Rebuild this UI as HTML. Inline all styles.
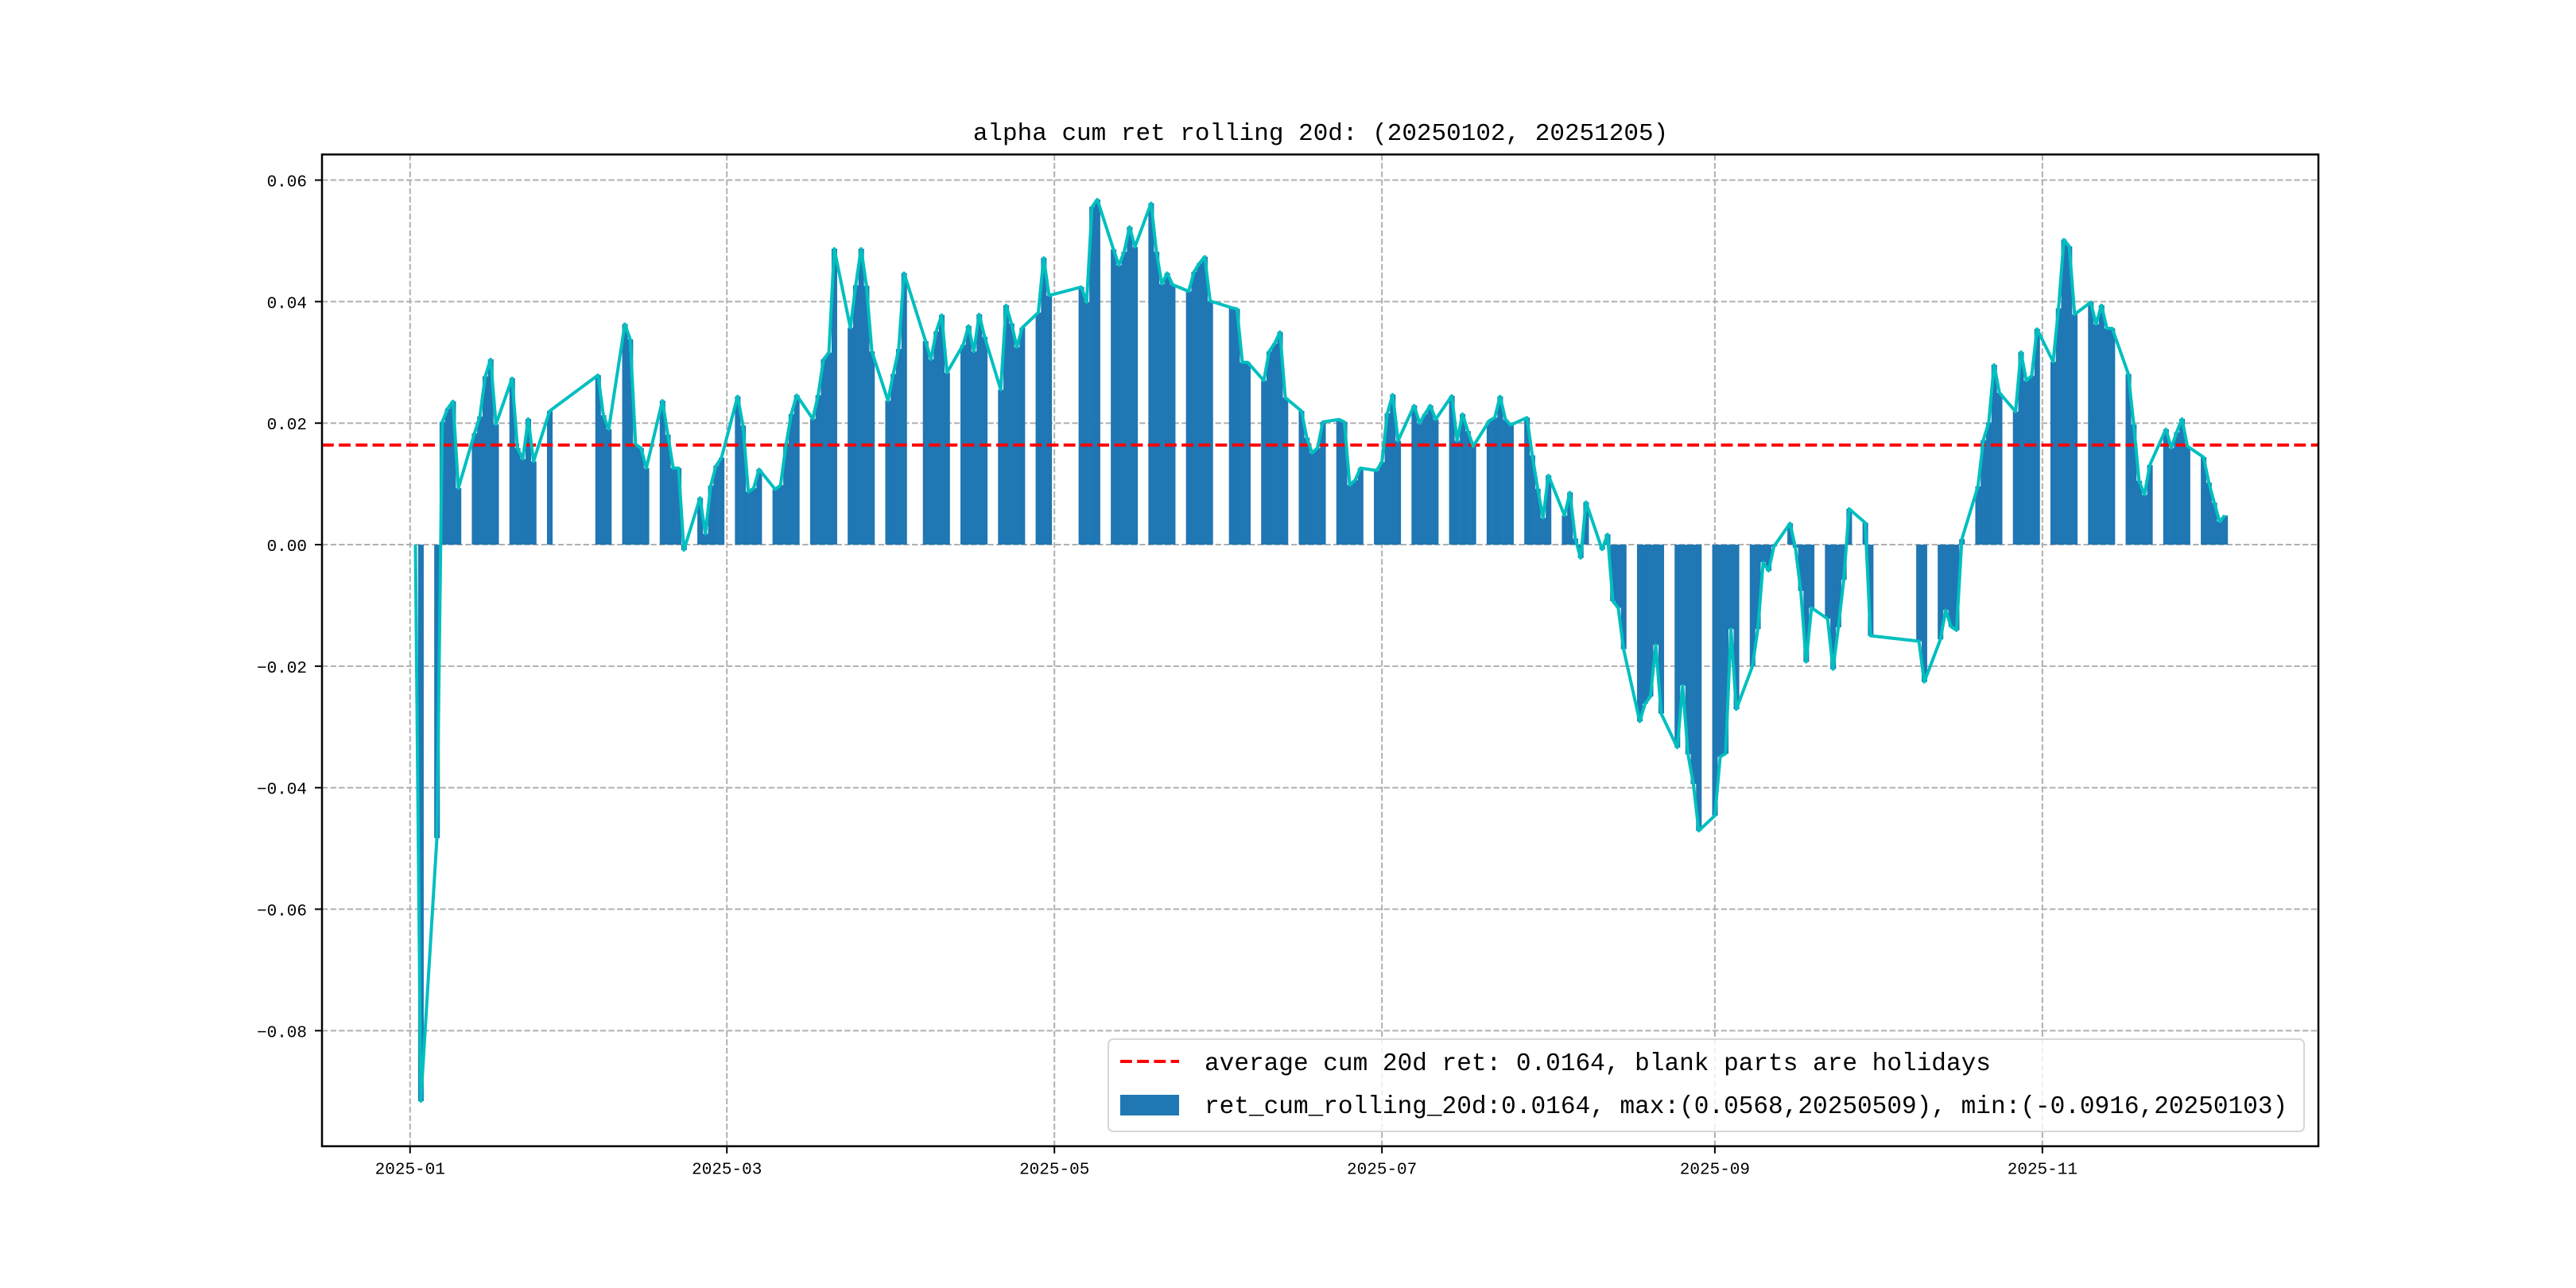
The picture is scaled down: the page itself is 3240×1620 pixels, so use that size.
<!DOCTYPE html>
<html><head><meta charset="utf-8">
<style>
html,body{margin:0;padding:0;background:#fff;}
svg{display:block;}
text{font-family:"Liberation Mono","Noto Sans CJK SC",monospace;fill:#000;}
</style></head>
<body>
<svg id="chart" width="3240" height="1620" viewBox="0 0 3240 1620" xmlns="http://www.w3.org/2000/svg">
<rect width="3240" height="1620" fill="#fff"/>
<g id="grid"></g>
<g id="bars"></g>
<g id="avgline"></g>
<g id="line"></g>
<g id="axes"></g>
<text x="1661" y="176" font-size="31" text-anchor="middle">alpha cum ret rolling 20d: (20250102, 20251205)</text>
<g>
<rect x="1394" y="1307" width="1504" height="116" rx="6" fill="#fff" fill-opacity="0.8" stroke="#d6d6d6" stroke-width="2"/>
<line x1="1409" y1="1335" x2="1483" y2="1335" stroke="#ff0000" stroke-width="4" stroke-dasharray="14.8,6.4"/>
<text x="1515" y="1346" font-size="31.1">average cum 20d ret: 0.0164, blank parts are holidays</text>
<rect x="1409" y="1377" width="74" height="26" fill="#1f77b4"/>
<text x="1515" y="1400" font-size="31.1">ret_cum_rolling_20d:0.0164, max:(0.0568,20250509), min:(-0.0916,20250103)</text>
</g>
</svg>
<script>
const dates = ["01-02","01-03","01-06","01-07","01-08","01-09","01-10","01-13","01-14","01-15","01-16","01-17","01-20","01-21","01-22","01-23","01-24","01-27","02-05","02-06","02-07","02-10","02-11","02-12","02-13","02-14","02-17","02-18","02-19","02-20","02-21","02-24","02-25","02-26","02-27","02-28","03-03","03-04","03-05","03-06","03-07","03-10","03-11","03-12","03-13","03-14","03-17","03-18","03-19","03-20","03-21","03-24","03-25","03-26","03-27","03-28","03-31","04-01","04-02","04-03","04-07","04-08","04-09","04-10","04-11","04-14","04-15","04-16","04-17","04-18","04-21","04-22","04-23","04-24","04-25","04-28","04-29","04-30","05-06","05-07","05-08","05-09","05-12","05-13","05-14","05-15","05-16","05-19","05-20","05-21","05-22","05-23","05-26","05-27","05-28","05-29","05-30","06-03","06-04","06-05","06-06","06-09","06-10","06-11","06-12","06-13","06-16","06-17","06-18","06-19","06-20","06-23","06-24","06-25","06-26","06-27","06-30","07-01","07-02","07-03","07-04","07-07","07-08","07-09","07-10","07-11","07-14","07-15","07-16","07-17","07-18","07-21","07-22","07-23","07-24","07-25","07-28","07-29","07-30","07-31","08-01","08-04","08-05","08-06","08-07","08-08","08-11","08-12","08-13","08-14","08-15","08-18","08-19","08-20","08-21","08-22","08-25","08-26","08-27","08-28","08-29","09-01","09-02","09-03","09-04","09-05","09-08","09-09","09-10","09-11","09-12","09-15","09-16","09-17","09-18","09-19","09-22","09-23","09-24","09-25","09-26","09-29","09-30","10-09","10-10","10-13","10-14","10-15","10-16","10-17","10-20","10-21","10-22","10-23","10-24","10-27","10-28","10-29","10-30","10-31","11-03","11-04","11-05","11-06","11-07","11-10","11-11","11-12","11-13","11-14","11-17","11-18","11-19","11-20","11-21","11-24","11-25","11-26","11-27","11-28","12-01","12-02","12-03","12-04","12-05"];
const values = [0,-0.0916,-0.0483,0.0202,0.0224,0.0236,0.0093,0.0183,0.0211,0.0277,0.0305,0.0198,0.0274,0.0159,0.0141,0.0207,0.0137,0.0220,0.0279,0.0213,0.0190,0.0363,0.0338,0.0165,0.0159,0.0126,0.0237,0.0181,0.0126,0.0126,-0.0009,0.0077,0.0018,0.0097,0.0130,0.0143,0.0244,0.0196,0.0087,0.0093,0.0124,0.0091,0.0098,0.0163,0.0215,0.0246,0.0207,0.0246,0.0305,0.0316,0.0487,0.0357,0.0427,0.0487,0.0426,0.0318,0.0237,0.0281,0.0322,0.0447,0.0335,0.0305,0.0351,0.0378,0.0283,0.0329,0.0360,0.0318,0.0379,0.0342,0.0255,0.0394,0.0364,0.0325,0.0357,0.0382,0.0472,0.0410,0.0424,0.0399,0.0556,0.0568,0.0486,0.0460,0.0482,0.0523,0.0490,0.0562,0.0482,0.0429,0.0447,0.0428,0.0417,0.0449,0.0463,0.0474,0.0401,0.0390,0.0388,0.0300,0.0300,0.0270,0.0318,0.0331,0.0350,0.0242,0.0220,0.0176,0.0151,0.0159,0.0202,0.0206,0.0202,0.0098,0.0106,0.0126,0.0122,0.0136,0.0216,0.0247,0.0171,0.0229,0.0200,0.0215,0.0229,0.0206,0.0245,0.0171,0.0215,0.0187,0.0162,0.0204,0.0209,0.0244,0.0206,0.0197,0.0209,0.0147,0.0092,0.0044,0.0114,0.0048,0.0086,0.0010,-0.0022,0.0070,-0.0008,0.0017,-0.0093,-0.0104,-0.0172,-0.0291,-0.0262,-0.0250,-0.0165,-0.0278,-0.0334,-0.0232,-0.0345,-0.0394,-0.0471,-0.0446,-0.0349,-0.0344,-0.0139,-0.0271,-0.0200,-0.0139,-0.0029,-0.0043,-0.0003,0.0035,-0.0005,-0.0076,-0.0193,-0.0104,-0.0122,-0.0205,-0.0136,-0.0058,0.0059,0.0036,-0.0150,-0.0159,-0.0226,-0.0156,-0.0108,-0.0135,-0.0141,0.0009,0.0096,0.0172,0.0201,0.0296,0.0250,0.0219,0.0317,0.0270,0.0278,0.0355,0.0301,0.0389,0.0502,0.0491,0.0379,0.0399,0.0363,0.0394,0.0356,0.0356,0.0281,0.0198,0.0105,0.0082,0.0131,0.0190,0.0159,0.0185,0.0207,0.0162,0.0144,0.0102,0.0069,0.0038,0.0048];
const averageValue = 0.0164;
const yTicks = [-0.08,-0.06,-0.04,-0.02,0.00,0.02,0.04,0.06];
const yTickLabels = ["\u22120.08","\u22120.06","\u22120.04","\u22120.02","0.00","0.02","0.04","0.06"];
const xTickDates = ["01-01","03-01","05-01","07-01","09-01","11-01"];
const xTickLabels = ["2025-01","2025-03","2025-05","2025-07","2025-09","2025-11"];

const NS = "http://www.w3.org/2000/svg";
const L = 405, R = 2916, T = 194.3, B = 1441.7;
function dayOf(md){ const p = md.split("-"); return (Date.UTC(2025,+p[0]-1,+p[1]) - Date.UTC(2025,0,1))/86400000; }
const d0 = dayOf(dates[0]) - 0.5, d1 = dayOf(dates[dates.length-1]) + 0.5;
const mx = (d1-d0)*0.05;
const xMin = d0-mx, xMax = d1+mx;
let vMin = Math.min(0,...values), vMax = Math.max(0,...values);
const my = (vMax-vMin)*0.05;
const yMin = vMin-my, yMax = vMax+my;
function X(d){ return L + (d-xMin)/(xMax-xMin)*(R-L); }
function Y(v){ return B - (v-yMin)/(yMax-yMin)*(B-T); }
function mk(tag, attrs, parent){ const e = document.createElementNS(NS, tag); for (const k in attrs) e.setAttribute(k, attrs[k]); parent.appendChild(e); return e; }

const grid = document.getElementById("grid");
const axes = document.getElementById("axes");
yTicks.forEach((t,i)=>{
  const y = Y(t);
  const g = mk("line",{x1:L,x2:R,y1:y,y2:y,stroke:"#b0b0b0","stroke-width":2,"stroke-dasharray":"7.4,3.2"},grid);
  
  
  const tk = mk("line",{x1:L-9,x2:L,y1:y,y2:y,stroke:"#000","stroke-width":2},axes);
  
  
  const tx = mk("text",{x:L-19,y:y+8,"font-size":21,"text-anchor":"end"},axes);
  tx.textContent = yTickLabels[i];
  
  
});
xTickDates.forEach((t,i)=>{
  const x = X(dayOf(t));
  const g = mk("line",{x1:x,x2:x,y1:T,y2:B,stroke:"#b0b0b0","stroke-width":2,"stroke-dasharray":"7.4,3.2"},grid);
  
  
  const tk = mk("line",{x1:x,x2:x,y1:B,y2:B+9,stroke:"#000","stroke-width":2},axes);
  
  
  const tx = mk("text",{x:x,y:B+35,"font-size":21,"text-anchor":"middle"},axes);
  tx.textContent = xTickLabels[i];
  
  
});

const bars = document.getElementById("bars");
const y0 = Y(0);
const pts = [];
dates.forEach((dt,i)=>{
  const d = dayOf(dt), v = values[i];
  const xa = X(d-0.5), xb = X(d+0.5), yv = Y(v);
  const r = mk("rect",{x:xa,y:Math.min(yv,y0),width:xb-xa+0.3,height:Math.abs(yv-y0),fill:"#1f77b4"},bars);
  
  
  pts.push(X(d).toFixed(2)+","+yv.toFixed(2));
});

const avg = mk("line",{x1:L,x2:R,y1:Y(averageValue),y2:Y(averageValue),stroke:"#ff0000","stroke-width":4,"stroke-dasharray":"14.8,6.4"},document.getElementById("avgline"));



const pl = mk("polyline",{points:pts.join(" "),fill:"none",stroke:"#00bfbf","stroke-width":4,"stroke-linejoin":"round"},document.getElementById("line"));



const fr = mk("rect",{x:L,y:T,width:R-L,height:B-T,fill:"none",stroke:"#000","stroke-width":2.5},axes);


</script>
</body></html>
